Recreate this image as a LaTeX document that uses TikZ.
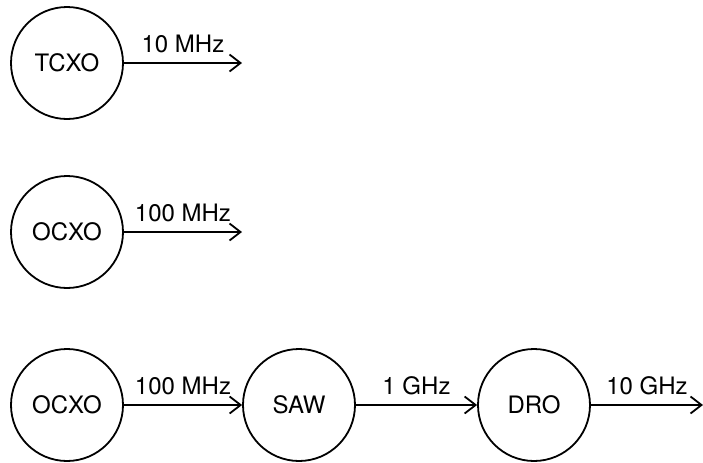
\documentclass[tikz,border=0pt]{standalone}
\usepackage{fontspec}
\setmainfont{TeX Gyre Heros}
\usepackage{tikz}
\usetikzlibrary{arrows.meta,positioning}
\tikzset{
  osc/.style={circle,draw,line width=0.9pt,minimum size=56pt,inner sep=0pt,font=\fontsize{12}{14}\selectfont},
  sig/.style={-{Straight Barb[length=5.5pt,width=8.5pt,line width=0.9pt]},line width=0.9pt},
  frq/.style={above,midway,inner sep=4.5pt,font=\fontsize{12}{14}\selectfont}
}
\begin{document}
\begin{tikzpicture}[x=0.5pt,y=-0.5pt]
\useasboundingbox (0,0) rectangle (703,462);
% single references
\node[osc] (tcxo) at (67,63) {TCXO};
\coordinate (tcxoout) at (242,63);
\draw[sig] (tcxo) -- (tcxoout) node[frq] (f1) {10 MHz};
\node[osc] (ocxo) at (67,232) {OCXO};
\coordinate (ocxoout) at (242,232);
\draw[sig] (ocxo) -- (ocxoout) node[frq] (f2) {100 MHz};
% multiplier chain
\node[osc] (ocxob) at (67,405) {OCXO};
\node[osc] (saw) at (299,405) {SAW};
\node[osc] (dro) at (534,405) {DRO};
\coordinate (droout) at (703,405);
\draw[sig] (ocxob) -- (saw) node[frq] (f3) {100 MHz};
\draw[sig] (saw) -- (dro) node[frq] (f4) {1 GHz};
\draw[sig] (dro) -- (droout) node[frq] (f5) {10 GHz};
\end{tikzpicture}
\end{document}
